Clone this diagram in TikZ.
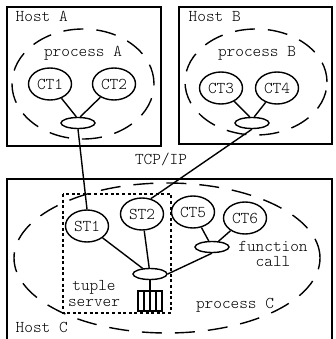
\documentclass[tikz,border=0pt]{standalone}
\usepackage{fontspec}
\setmonofont{Latin Modern Mono Light}
\usepackage{tikz}
\usetikzlibrary{shapes.geometric}

\tikzset{
  hostbox/.style={draw, line width=1.5pt},
  procline/.style={line width=1.4pt, dash pattern=on 20pt off 13pt},
  serverbox/.style={line width=1.3pt, dash pattern=on 3pt off 2.6pt},
  thread/.style={draw, ellipse, line width=1.4pt, minimum width=43pt, minimum height=32pt, inner sep=0pt},
  hub/.style={draw, ellipse, line width=1.4pt, minimum width=34pt, minimum height=11pt, inner sep=0pt},
  txt/.style={inner sep=0pt, anchor=base},
}

\begin{document}
\begin{tikzpicture}
    [x=1pt, y=-1pt, line width=1.4pt,
     font=\ttfamily\fontsize{16.5}{18}\selectfont]
  \useasboundingbox (0,0) rectangle (335,339);

  % host boxes
  \draw[hostbox] (7,7) rectangle (161,146);
  \draw[hostbox] (179,7) rectangle (332,144);
  \draw[hostbox] (7,341) -- (7,179) -- (332,179) -- (332,341);

  % processes
  \draw[procline] (83,84) ellipse [x radius=71pt, y radius=55pt];
  \draw[procline] (256,82) ellipse [x radius=71pt, y radius=53pt];
  \draw[procline] (167,258) ellipse [x radius=153pt, y radius=75pt];
  \draw[serverbox] (63,194) rectangle (171,313);

  % texts
  \node[txt, anchor=base west] (hosta) at (15,22) {Host A};
  \node[txt, anchor=base west] (hostb) at (188,22) {Host B};
  \node[txt, anchor=base west] (hostc) at (15,332) {Host C};
  \node[txt] (proca) at (83,57) {process A};
  \node[txt] (procb) at (257,57) {process B};
  \node[txt] (procc) at (235,308) {process C};
  \node[txt] (tcpip) at (161,164) {TCP/IP};
  \node[txt] (tuple) at (94,290) {tuple};
  \node[txt] (server) at (94,306) {server};
  \node[txt] (func) at (273,251) {function};
  \node[txt] (call) at (273,266) {call};

  % host A
  \node[thread] (ct1) at (50,84) {CT1};
  \node[thread] (ct2) at (114,84) {CT2};
  \node[hub] (huba) at (78,123) {};

  % host B
  \node[thread] (ct3) at (221,88) {CT3};
  \node[thread] (ct4) at (277,88) {CT4};
  \node[hub] (hubb) at (252,123) {};

  % host C
  \node[thread] (st1) at (87,226) {ST1};
  \node[thread] (st2) at (142,214) {ST2};
  \node[thread] (ct5) at (193,212) {CT5};
  \node[thread] (ct6) at (245,218) {CT6};
  \node[hub] (hubc) at (150,274) {};
  \node[hub] (fcall) at (212,247) {};
  \node[draw, line width=1.4pt, minimum width=24pt, minimum height=20pt, inner sep=0pt] (queue) at (150,301) {};
  \foreach \qx in {-6,0,6}
    \draw ([xshift=\qx pt]queue.north) -- ([xshift=\qx pt]queue.south);

  % links
  \draw (ct1) -- (huba.105);
  \draw (ct2) -- (huba.70);
  \draw (ct3) -- (hubb.110);
  \draw (ct4) -- (hubb.70);
  \draw (huba.south) -- (st1.north);
  \draw (hubb.south) -- (st2.60);
  \draw (st1) -- (hubc);
  \draw (st2) -- (hubc);
  \draw (ct5) -- (fcall);
  \draw (ct6) -- (fcall);
  \draw (fcall.south) -- (hubc.east);
  \draw (hubc.south) -- (queue.north);
\end{tikzpicture}
\end{document}
